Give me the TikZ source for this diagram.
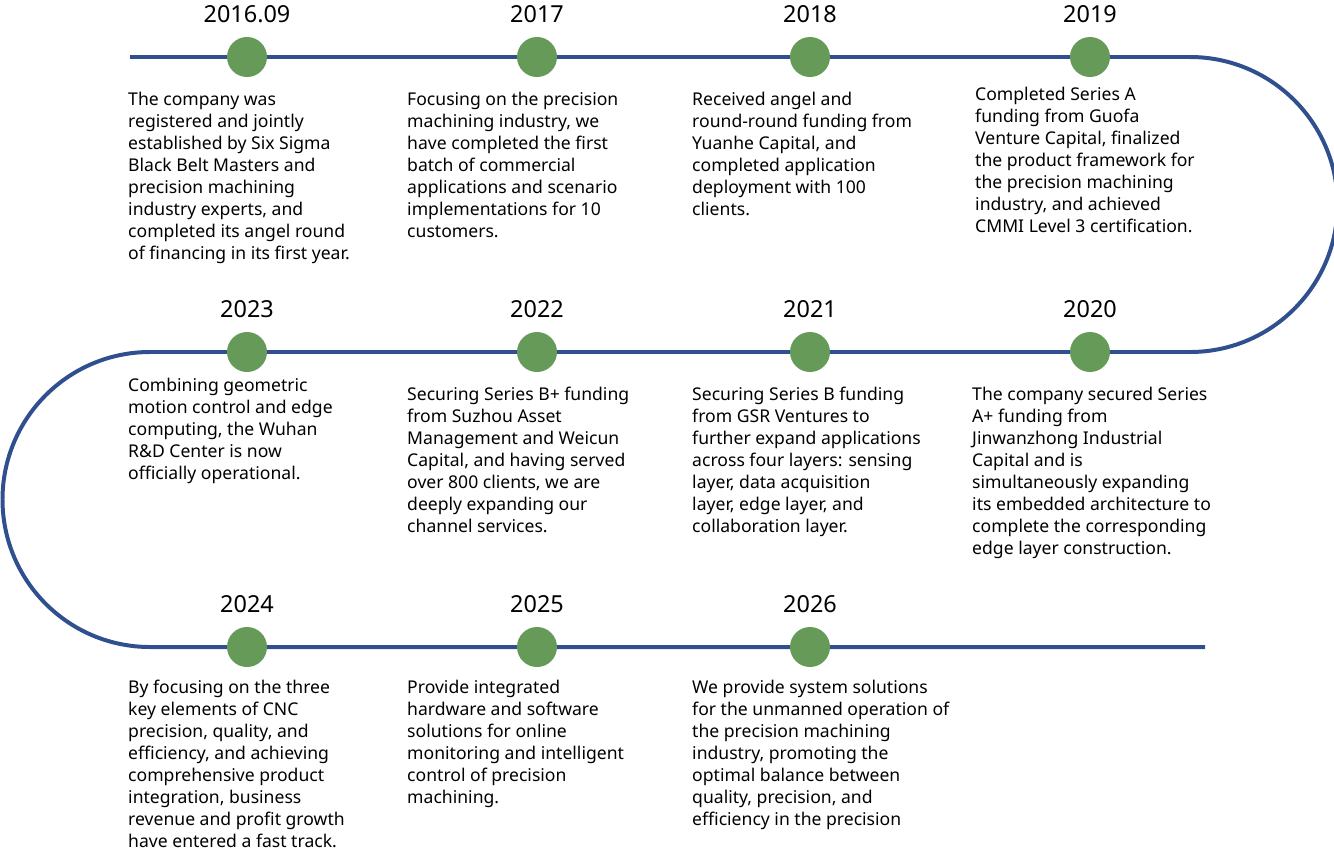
\documentclass[tikz,border=0pt]{standalone}
\usepackage{fontspec}
\setmainfont{Noto Sans}
\usetikzlibrary{positioning}
\definecolor{lineblue}{HTML}{2F4F8F}
\definecolor{dotgreen}{HTML}{659A58}
\begin{document}
\begin{tikzpicture}[
  x=0.03cm, y=-0.03cm,
  road/.style={draw=lineblue, line width=3.4pt},
  dot/.style={circle, fill=dotgreen, minimum size=1.2cm, inner sep=0pt},
  year/.style={font=\fontsize{20}{22}\selectfont, above=0.3cm of #1},
  desc/.style={anchor=north west, inner sep=0pt, align=left, font=\fontsize{15}{18.8}\selectfont}
]
\useasboundingbox (0,0) rectangle (1334,857);

% Path
\draw[road] (130,57) -- (1190,57) arc[start angle=-90, end angle=90, radius=147.5]
  -- (150,352) arc[start angle=-90, end angle=-270, radius=147.5] -- (1205,647);

% Dots
\node[dot] (d1) at (247,57) {};
\node[dot] (d2) at (537,57) {};
\node[dot] (d3) at (810,57) {};
\node[dot] (d4) at (1090,57) {};
\node[dot] (d5) at (247,352) {};
\node[dot] (d6) at (537,352) {};
\node[dot] (d7) at (810,352) {};
\node[dot] (d8) at (1090,352) {};
\node[dot] (d9) at (247,647) {};
\node[dot] (d10) at (537,647) {};
\node[dot] (d11) at (810,647) {};

% Years
\node[year=d1] {2016.09};
\node[year=d2] {2017};
\node[year=d3] {2018};
\node[year=d4] {2019};
\node[year=d5] {2023};
\node[year=d6] {2022};
\node[year=d7] {2021};
\node[year=d8] {2020};
\node[year=d9] {2024};
\node[year=d10] {2025};
\node[year=d11] {2026};

% Texts
\node[desc] (t1) at (128,92) {The company was\\registered and jointly\\established by Six Sigma\\Black Belt Masters and\\precision machining\\industry experts, and\\completed its angel round\\of financing in its first year.};
\node[desc] (t2) at (407,92) {Focusing on the precision\\machining industry, we\\have completed the first\\batch of commercial\\applications and scenario\\implementations for 10\\customers.};
\node[desc] (t3) at (692,92) {Received angel and\\round-round funding from\\Yuanhe Capital, and\\completed application\\deployment with 100\\clients.};
\node[desc] (t4) at (975,87) {Completed Series A\\funding from Guofa\\Venture Capital, finalized\\the product framework for\\the precision machining\\industry, and achieved\\CMMI Level 3 certification.};
\node[desc] (t5) at (128,378) {Combining geometric\\motion control and edge\\computing, the Wuhan\\R\&D Center is now\\officially operational.};
\node[desc] (t6) at (407,387) {Securing Series B+ funding\\from Suzhou Asset\\Management and Weicun\\Capital, and having served\\over 800 clients, we are\\deeply expanding our\\channel services.};
\node[desc] (t7) at (692,387) {Securing Series B funding\\from GSR Ventures to\\further expand applications\\across four layers: sensing\\layer, data acquisition\\layer, edge layer, and\\collaboration layer.};
\node[desc] (t8) at (972,387) {The company secured Series\\A+ funding from\\Jinwanzhong Industrial\\Capital and is\\simultaneously expanding\\its embedded architecture to\\complete the corresponding\\edge layer construction.};
\node[desc] (t9) at (128,680) {By focusing on the three\\key elements of CNC\\precision, quality, and\\efficiency, and achieving\\comprehensive product\\integration, business\\revenue and profit growth\\have entered a fast track.};
\node[desc] (t10) at (407,680) {Provide integrated\\hardware and software\\solutions for online\\monitoring and intelligent\\control of precision\\machining.};
\node[desc] (t11) at (692,680) {We provide system solutions\\for the unmanned operation of\\the precision machining\\industry, promoting the\\optimal balance between\\quality, precision, and\\efficiency in the precision};
\end{tikzpicture}
\end{document}
